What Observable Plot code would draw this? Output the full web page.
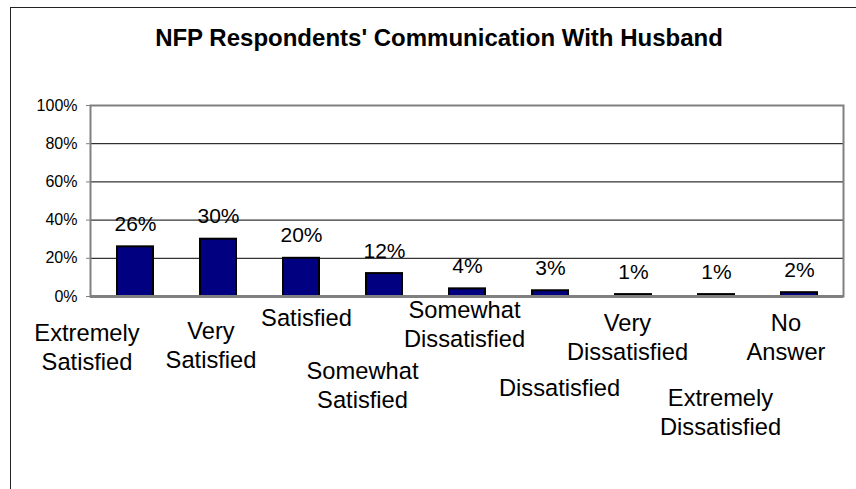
<!DOCTYPE html>
<html>
<head>
<meta charset="utf-8">
<script src="https://cdn.jsdelivr.net/npm/d3@7"></script>
<script src="https://cdn.jsdelivr.net/npm/@observablehq/plot@0.6"></script>
<style>
  html, body { margin: 0; padding: 0; background: white; overflow: hidden; }
  #wrap { position: relative; width: 856px; height: 489px; }
  #border { position: absolute; left: 10px; top: 7px; width: 900px; height: 600px;
            border-left: 1.5px solid #222; border-top: 1.5px solid #222; }
  #title { position: absolute; left: 0; top: 25.7px; width: 878px; text-align: center;
           font: bold 24px "Liberation Sans", Arial, sans-serif; line-height: 24px; color: #000; }
  #chart { position: absolute; left: 0; top: 0; }
</style>
</head>
<body>
<div id="wrap">
  <div id="chart"></div>
  <div id="border"></div>
  <div id="title">NFP Respondents' Communication With Husband</div>
</div>
<script>
const categories = [
  "Extremely Satisfied", "Very Satisfied", "Satisfied", "Somewhat Satisfied",
  "Somewhat Dissatisfied", "Dissatisfied", "Very Dissatisfied",
  "Extremely Dissatisfied", "No Answer"
];
const values = [26, 30, 20, 12, 4, 3, 1, 1, 2];
const yTicks = [0, 20, 40, 60, 80, 100];

// layout of the staggered category labels (offsets from each band centre)
const labelDx = [-48.5, -7.5, 5, -22, -3, 9, -6, 4, -13.5];
const labelDy = [24.2, 22.2, 9.2, 62.2, 1.2, 79.2, 14.2, 89.2, 14.2];

const data = categories.map((c, i) => ({cat: c, value: values[i]}));
const labels = categories.map((c, i) => ({cat: c, text: c.replace(" ", "\n"), dx: labelDx[i], dy: labelDy[i]}));

const font = "'Liberation Sans', Arial, sans-serif";

const plot = Plot.plot({
  width: 856,
  height: 489,
  marginLeft: 90,
  marginRight: 13,
  marginTop: 105,
  marginBottom: 193,
  style: {fontFamily: font, fontSize: "16px", color: "black", background: "transparent"},
  x: {domain: categories, paddingInner: 0.57, paddingOuter: 0.285, axis: null},
  y: {domain: [0, 100], axis: null},
  marks: [
    Plot.gridY([20, 40, 60, 80], {stroke: "black", strokeOpacity: 1, strokeWidth: 1}),
    Plot.barY(data, {x: "cat", y: "value", fill: "#000080", stroke: "black", strokeWidth: 2}),
    Plot.frame({stroke: "#808080", strokeWidth: 2}),
    Plot.ruleY([0], {stroke: "#808080", strokeWidth: 3}),
    Plot.axisY(yTicks, {
      anchor: "left", tickSize: 4, tickPadding: 9, stroke: "#808080", fill: "black",
      tickFormat: d => d + "%", fontSize: 16, label: null
    }),
    Plot.text(data, {
      x: "cat", y: "value", text: d => d.value + "%", lineAnchor: "bottom", dy: -16,
      fontSize: 21, fill: "black"
    }),
    ...labels.map(l => Plot.text([l], {
      x: "cat", frameAnchor: "bottom", text: "text", lineAnchor: "top",
      dx: l.dx, dy: l.dy, fontSize: 23.7, lineHeight: 1.21, fill: "black"
    }))
  ]
});
document.getElementById("chart").appendChild(plot);
</script>
</body>
</html>
